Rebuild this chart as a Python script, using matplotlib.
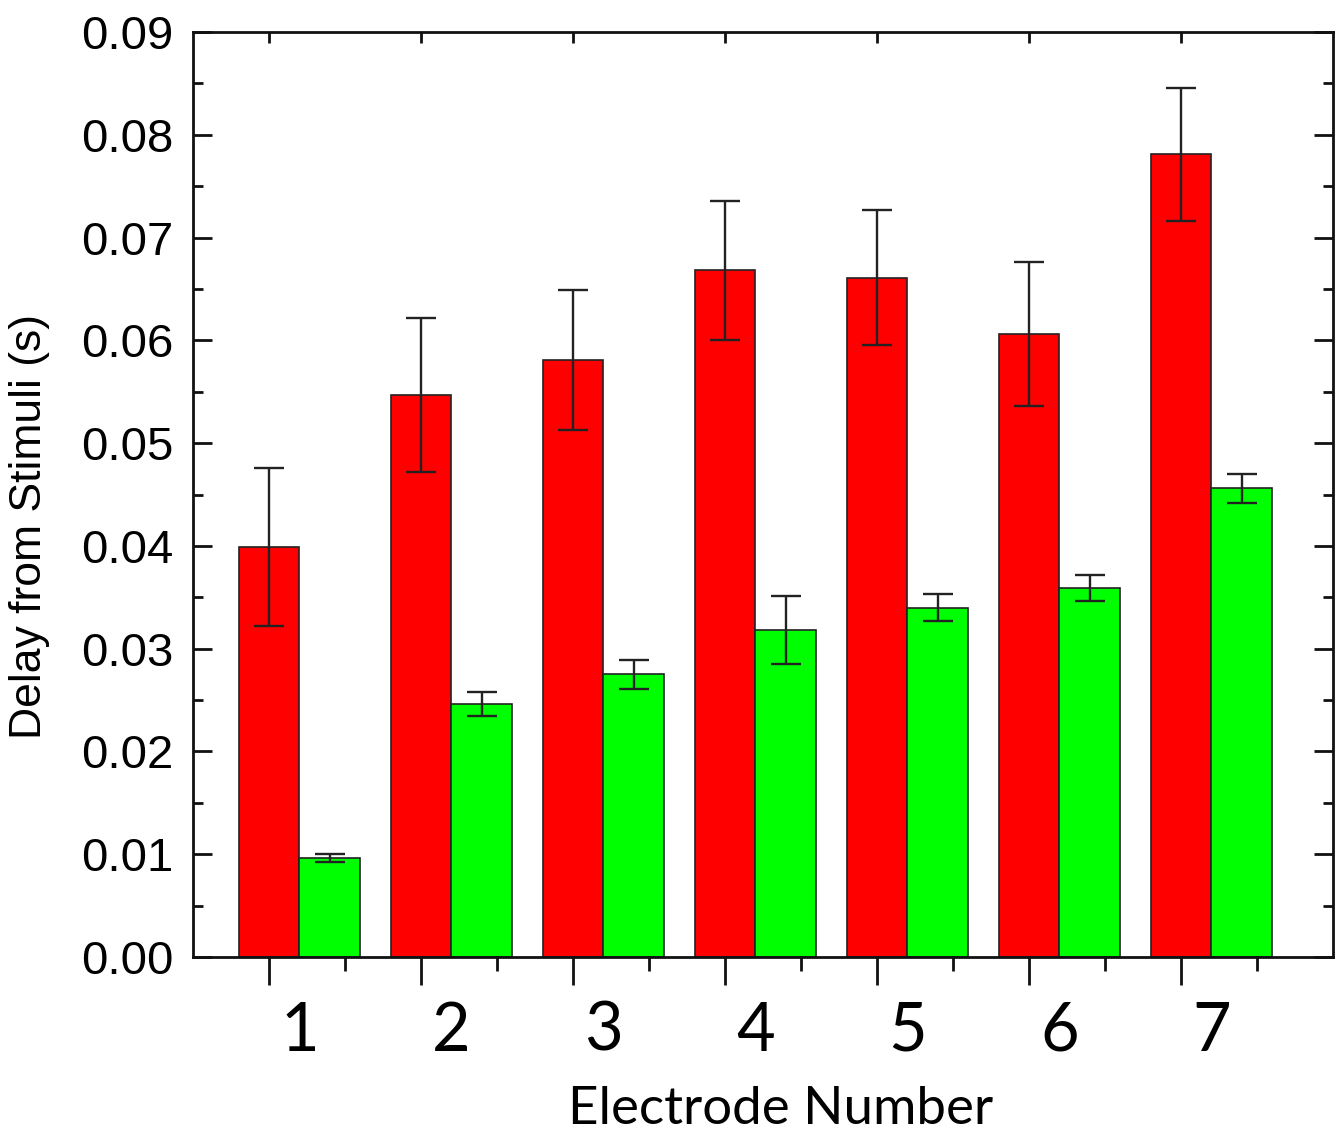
import numpy as np
import matplotlib
matplotlib.use("Agg")
import matplotlib.pyplot as plt
from matplotlib.ticker import MultipleLocator

electrodes = [1, 2, 3, 4, 5, 6, 7]
red_vals = [0.0399, 0.0547, 0.0581, 0.0668, 0.0661, 0.0606, 0.0781]
red_err = [0.0077, 0.0075, 0.0068, 0.0068, 0.0066, 0.0070, 0.0065]
green_vals = [0.0096, 0.0246, 0.0275, 0.0318, 0.0340, 0.0359, 0.0456]
green_err = [0.0004, 0.0012, 0.0014, 0.0033, 0.0013, 0.0013, 0.0014]
y_ticks = [0.00, 0.01, 0.02, 0.03, 0.04, 0.05, 0.06, 0.07, 0.08, 0.09]

fig = plt.figure(figsize=(13.42, 11.36), dpi=100)
ax = fig.add_axes([0.1438, 0.1576, 0.8495, 0.8142])

x = np.array(electrodes, dtype=float)
w = 0.4
ekw = dict(ecolor='#222222', elinewidth=1.7, capsize=11, capthick=1.7)
ax.bar(x, red_vals, w, yerr=red_err, color='#ff0000', edgecolor='#222222',
       linewidth=1.2, error_kw=ekw)
ax.bar(x + w, green_vals, w, yerr=green_err, color='#00ff00', edgecolor='#222222',
       linewidth=1.2, error_kw=ekw)

ax.set_xlim(0.5, 8.0)
ax.set_ylim(0, 0.09)
ax.set_yticks(y_ticks)
ax.yaxis.set_minor_locator(MultipleLocator(0.005))
ax.set_yticklabels([f"{v:.2f}" for v in y_ticks], fontsize=34,
                   family='Liberation Sans')
ax.set_xticks(x)
ax.set_xticks(x + 0.5, minor=True)
ax.set_xticklabels([])

for s in ax.spines.values():
    s.set_linewidth(2.0)
    s.set_color('#111111')

ax.tick_params(axis='y', which='both', direction='in', left=True, right=True,
               width=2, color='#111111', pad=14)
ax.tick_params(axis='y', which='major', length=14)
ax.tick_params(axis='y', which='minor', length=7)
ax.tick_params(axis='x', which='both', direction='out', bottom=True, top=False,
               width=2, color='#111111')
ax.tick_params(axis='x', which='major', length=20)
ax.tick_params(axis='x', which='minor', length=10)

sec = ax.secondary_xaxis('top')
sec.set_xticks(x)
sec.set_xticklabels([])
sec.tick_params(direction='in', length=8, width=2, color='#111111')
sec.spines['top'].set_visible(False)

for e in electrodes:
    ax.text(e + 0.2, -0.0073, str(e), ha='center', va='center', fontsize=48,
            family='Lato', transform=ax.transData, clip_on=False)

ax.text(0.515, -0.165, 'Electrode Number', ha='center', va='center', fontsize=38,
        family='Lato', transform=ax.transAxes)
ax.set_ylabel('Delay from Stimuli (s)', fontsize=32, family='Liberation Sans',
              labelpad=16)
ax.yaxis.set_label_coords(-0.125, 0.465)

fig.savefig('out.png', dpi=100)
